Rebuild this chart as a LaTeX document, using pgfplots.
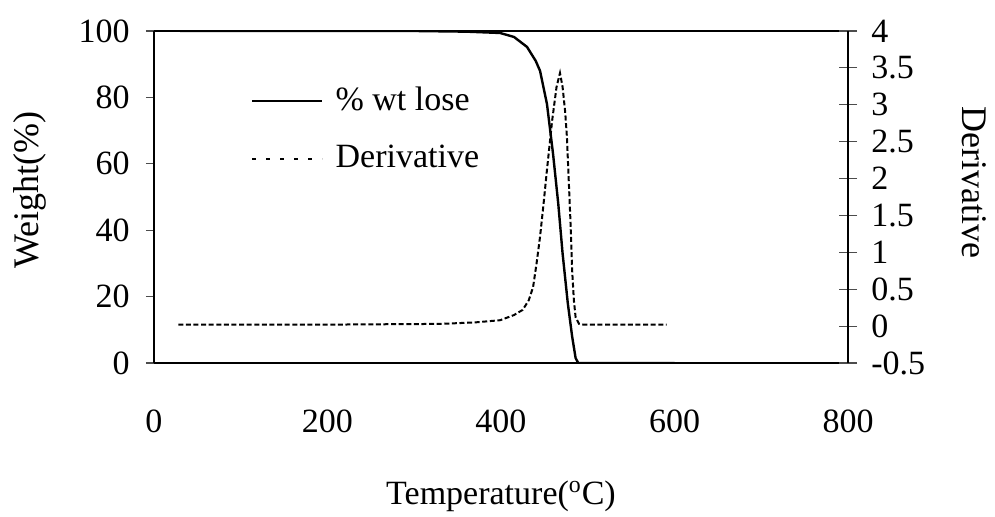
\documentclass[border=0pt]{standalone}
\usepackage{fontspec}
\setmainfont{Liberation Serif}
\usepackage{pgfplots}
\pgfplotsset{compat=1.18}

\pgfplotstableread{
T W
30 100
300 100
360 99.8
399 99.4
415 98.2
430 95.2
440 91
445 88
453 78
460 63
466 48
471 33
477 18
482 8
486 1.5
489 0
600 0
}\weight

\pgfplotstableread{
T D
28 0.02
200 0.02
330 0.03
370 0.05
399 0.08
415 0.15
425 0.22
432 0.35
437 0.53
441 0.85
445 1.21
449 1.65
453 2.12
459 2.79
464 3.24
468 3.43
471 3.24
474 2.9
476 2.56
478 2.0
480 1.44
482 0.76
484 0.35
486 0.12
490 0.03
495 0.02
591 0.02
}\deriv

\begin{document}
\fontsize{17}{20}\selectfont
\begin{tikzpicture}
\pgfplotsset{
  every axis/.append style={
    scale only axis, width=347pt, height=166pt,
    xmin=0, xmax=800,
    line width=1pt,
    /pgf/number format/assume math mode=true,
  },
}
\begin{axis}[
  ymin=0, ymax=100,
  ytick={0,20,...,100},
  xtick={0,200,...,800},
  axis y line*=left,
  axis x line*=box,
  x tick style={draw=none},
  y tick style={line width=0.6pt, black!70},
  tick align=outside,
  major tick length=4pt,
  yticklabel style={xshift=-2pt},
  xticklabel style={anchor=base, yshift=-31pt},
  xlabel={Temperature($^{\mathrm{o}}$C)},
  ylabel={Weight(\%)},
  every axis x label/.style={at={(rel axis cs:0.5,0)}, anchor=base, yshift=-71pt},
  every axis y label/.style={at={(rel axis cs:0,0.52)}, xshift=-62pt, rotate=90, anchor=center,
    font=\fontsize{18}{21}\selectfont},
  legend style={draw=none, fill=none, at={(0.13,0.86)}, anchor=north west,
    row sep=11pt, font=\fontsize{17}{20}\selectfont},
  legend cell align=left,
  legend image code/.code={\draw[#1] (0pt,0pt) -- (35pt,0pt); \path (39pt,0pt);},
]
\coordinate (sw) at (rel axis cs:0,0);
\coordinate (ne) at (rel axis cs:1,1);
\addplot[black, line width=1.2pt] table[x=T, y=W] {\weight};
\addlegendentry{\% wt lose}
\addlegendimage{black, line width=1pt, dash pattern=on 2pt off 5pt}
\addlegendentry{Derivative}
\end{axis}
\begin{axis}[
  ymin=-0.5, ymax=4,
  ytick={-0.5,0,...,4},
  axis y line*=right,
  axis x line=none,
  tick align=center,
  major tick length=9pt,
  y tick style={line width=0.6pt, black!70},
  yticklabel style={xshift=1pt},
  ylabel={Derivative},
  every axis y label/.style={at={(rel axis cs:1,0.545)}, xshift=63pt, rotate=-90, anchor=center,
    font=\fontsize{18}{21}\selectfont},
]
\addplot[black, line width=1pt, dash pattern=on 2.5pt off 1.3pt] table[x=T, y=D] {\deriv};
\end{axis}
\pgfresetboundingbox
\path ([xshift=-77pt,yshift=-77pt]sw) rectangle ([xshift=73.5pt,yshift=15.5pt]ne);
\end{tikzpicture}
\end{document}
